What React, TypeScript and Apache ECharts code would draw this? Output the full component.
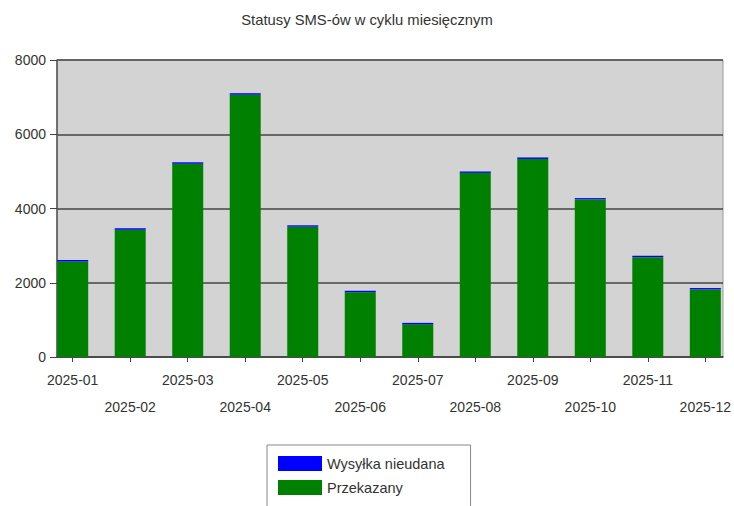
import React, { useEffect, useRef } from "react";
import * as echarts from "echarts";

const months = [
  "2025-01", "2025-02", "2025-03", "2025-04", "2025-05", "2025-06",
  "2025-07", "2025-08", "2025-09", "2025-10", "2025-11", "2025-12",
];
const delivered = [2570, 3430, 5205, 7065, 3510, 1745, 880, 4960, 5335, 4245, 2690, 1820];
const failed = [40, 36, 40, 40, 37, 39, 39, 37, 40, 35, 37, 37];
const yTicks = [0, 2000, 4000, 6000, 8000];

const FONT = "'Liberation Sans', Arial, sans-serif";

export default function App() {
  const ref = useRef<HTMLDivElement>(null);
  useEffect(() => {
    if (!ref.current) return;
    const chart = echarts.init(ref.current, undefined, { renderer: "svg" });
    chart.setOption({
      animation: false,
      backgroundColor: "#ffffff",
      title: {
        text: "Statusy SMS-ów w cyklu miesięcznym",
        left: "center",
        top: 7,
        textStyle: { fontFamily: FONT, fontSize: 14.8, fontWeight: "normal", color: "#333" },
      },
      legend: {
        orient: "vertical",
        left: 267,
        top: 445,
        height: 200,
        data: ["Wysyłka nieudana", "Przekazany"],
        itemWidth: 44,
        itemHeight: 15,
        itemGap: 9,
        padding: [11, 26, 30, 11],
        borderColor: "#888",
        borderWidth: 1,
        icon: "rect",
        textStyle: { fontFamily: FONT, fontSize: 14.5, color: "#333" },
      },
      grid: [
        {
          left: 57, right: 11, top: 60, bottom: 149,
          show: true, backgroundColor: "#d3d3d3", borderColor: "#999", borderWidth: 1,
        },
        { left: 72.7, right: 27, top: 60, bottom: 149 },
      ],
      xAxis: [
        {
          gridIndex: 0, type: "value", min: 0, max: 1,
          axisLine: { show: true, lineStyle: { color: "#444", width: 1.5 } },
          axisTick: { show: false }, axisLabel: { show: false }, splitLine: { show: false },
        },
        {
          gridIndex: 1, type: "category", data: months, boundaryGap: false,
          axisLine: { show: false },
          axisTick: { show: true, length: 5, lineStyle: { color: "#444" } },
          axisLabel: {
            interval: 0, margin: 9, lineHeight: 27, verticalAlign: "top",
            fontFamily: FONT, fontSize: 14, color: "#333",
            formatter: (v: string, i: number) => (i % 2 === 1 ? "\n" + v : v),
          },
          splitLine: { show: false },
        },
      ],
      yAxis: [
        {
          gridIndex: 0, type: "value", min: 0, max: 8000, interval: 2000,
          axisLine: { show: true, lineStyle: { color: "#555", width: 1.5 } },
          axisTick: { show: true, length: 7, lineStyle: { color: "#444" } },
          axisLabel: {
            margin: 11, fontFamily: FONT, fontSize: 14, color: "#333",
            formatter: (v: number) => (yTicks.includes(v) ? String(v) : ""),
          },
          splitLine: { show: true, lineStyle: { color: "#444", width: 1.5 } },
        },
        { gridIndex: 1, type: "value", min: 0, max: 8000, show: false, splitLine: { show: false } },
      ],
      series: [
        {
          name: "Przekazany", type: "bar", stack: "s", xAxisIndex: 1, yAxisIndex: 1,
          barWidth: 31, data: delivered, itemStyle: { color: "#008000" },
        },
        {
          name: "Wysyłka nieudana", type: "bar", stack: "s", xAxisIndex: 1, yAxisIndex: 1,
          barWidth: 31, data: failed, itemStyle: { color: "#0000ff" },
        },
      ],
    });
    return () => chart.dispose();
  }, []);
  return <div ref={ref} style={{ width: 734, height: 506, position: "absolute", left: 0, top: 0 }} />;
}
